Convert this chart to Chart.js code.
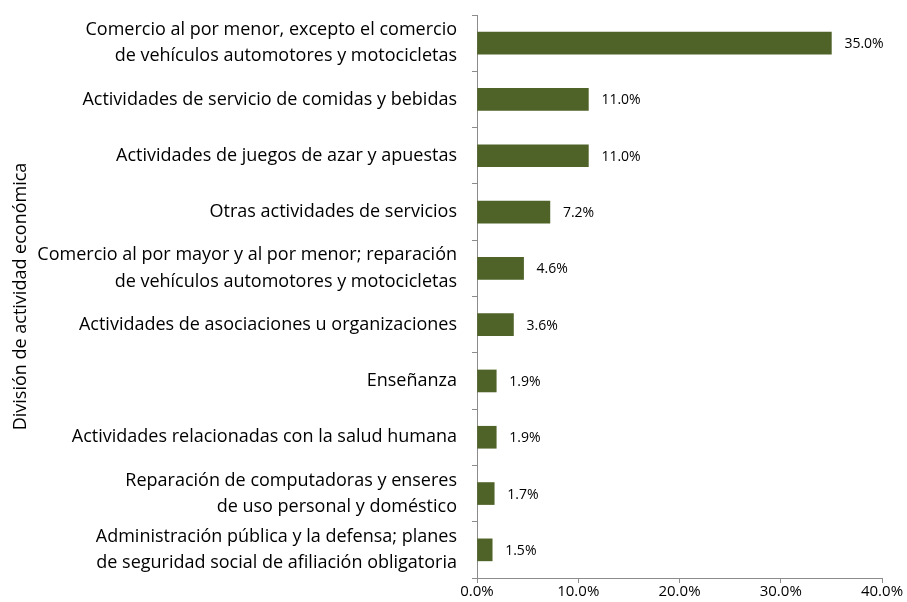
<!DOCTYPE html>
<html>
<head>
<meta charset="utf-8">
<script src="https://cdn.jsdelivr.net/npm/chart.js@4/dist/chart.umd.min.js"></script>
<style>
  html, body { margin: 0; padding: 0; background: #fff; }
  #wrap { width: 907px; height: 602px; }
</style>
</head>
<body>
<div id="wrap"><canvas id="chart" width="907" height="602"></canvas></div>
<script>
const categories = [
  ["Comercio al por menor, excepto el comercio", "de vehículos automotores y motocicletas"],
  "Actividades de servicio de comidas y bebidas",
  "Actividades de juegos de azar y apuestas",
  "Otras actividades de servicios",
  ["Comercio al por mayor y al por menor; reparación", "de vehículos automotores y motocicletas"],
  "Actividades de asociaciones u organizaciones",
  "Enseñanza",
  "Actividades relacionadas con la salud humana",
  ["Reparación de computadoras y enseres", "de uso personal y doméstico"],
  ["Administración pública y la defensa; planes", "de seguridad social de afiliación obligatoria"]
];
const shares = [35.0, 11.0, 11.0, 7.2, 4.6, 3.6, 1.9, 1.9, 1.7, 1.5];
const xTicks = [0, 10, 20, 30, 40];
const yTitle = "División de actividad económica";

const FONT = "'Open Sans', Lato, sans-serif";
const AXIS = "#8c8c8c";

// value labels at the end of each bar
const barLabels = {
  id: "barLabels",
  afterDatasetsDraw(chart) {
    const c = chart.ctx;
    const meta = chart.getDatasetMeta(0);
    c.save();
    c.font = "14px " + FONT;
    c.fillStyle = "#000";
    c.textAlign = "left";
    c.textBaseline = "middle";
    meta.data.forEach((bar, i) => {
      c.fillText(shares[i].toFixed(1) + "%", bar.x + 13, bar.y + 1);
    });
    c.restore();
  }
};

new Chart(document.getElementById("chart"), {
  type: "bar",
  data: {
    labels: categories,
    datasets: [{
      data: shares,
      backgroundColor: "#4f6228",
      borderWidth: 0,
      barThickness: 22
    }]
  },
  plugins: [barLabels],
  options: {
    indexAxis: "y",
    responsive: false,
    animation: false,
    layout: { padding: { top: 15, right: 25, left: 0, bottom: 0 } },
    plugins: {
      legend: { display: false },
      tooltip: { enabled: false }
    },
    scales: {
      x: {
        min: 0,
        max: 40,
        afterBuildTicks(scale) {
          scale.ticks = xTicks.map(v => ({ value: v }));
        },
        afterFit(scale) { scale.height = 24; scale.paddingLeft = 0; scale.paddingRight = 0; },
        ticks: {
          padding: 0,
          color: "#000",
          font: { family: FONT, size: 15 },
          callback: v => v.toFixed(1) + "%"
        },
        grid: { drawOnChartArea: false, tickLength: 5, color: AXIS },
        border: { color: AXIS, width: 1 }
      },
      y: {
        afterFit(scale) { scale.width = 477; scale.paddingTop = 0; scale.paddingBottom = 0; },
        ticks: {
          padding: 15,
          color: "#000",
          font: { family: FONT, size: 18, lineHeight: 1.45 }
        },
        grid: { drawOnChartArea: false, tickLength: 5, color: AXIS, offset: true },
        border: { color: AXIS, width: 1 },
        title: {
          display: true,
          text: yTitle,
          color: "#000",
          font: { family: FONT, size: 18 },
          padding: { top: 10, bottom: 0 }
        }
      }
    }
  }
});
</script>
</body>
</html>
